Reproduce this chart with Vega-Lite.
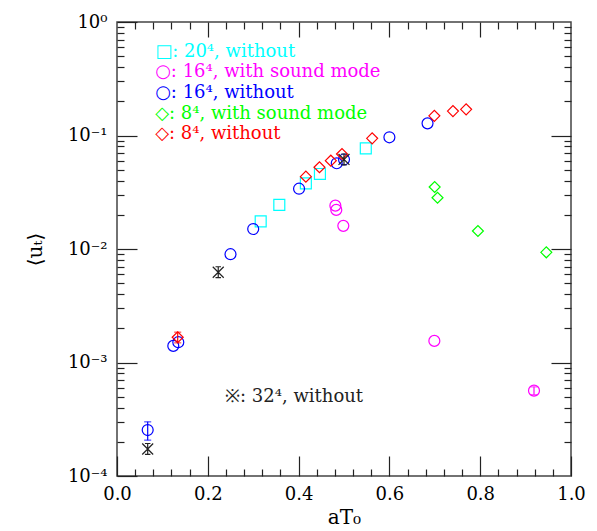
{
  "$schema": "https://vega.github.io/schema/vega-lite/v6.json",
  "width": 454,
  "height": 454,
  "autosize": {"type": "none"},
  "padding": {"left": 117, "top": 22, "right": 26, "bottom": 55},
  "background": "white",
  "config": {
    "view": {"stroke": "#444", "strokeWidth": 1.5},
    "font": "DejaVu Serif",
    "axis": {"domain": false, "grid": false, "labelFlush": false, "tickColor": "#222", "tickWidth": 1.2, "labelFont": "DejaVu Serif", "labelFontSize": 18, "labelColor": "black", "titleFont": "DejaVu Serif", "titleFontSize": 20, "titleFontWeight": "normal", "titleColor": "black"}
  },
  "datasets": {
    "pts": [
      {"s": "c20", "x": 0.3165, "y": 0.01754},
      {"s": "c20", "x": 0.3575, "y": 0.0245},
      {"s": "c20", "x": 0.416, "y": 0.0379},
      {"s": "c20", "x": 0.447, "y": 0.0458},
      {"s": "c20", "x": 0.548, "y": 0.0771},
      {"s": "m16", "x": 0.481, "y": 0.0241},
      {"s": "m16", "x": 0.483, "y": 0.0221},
      {"s": "m16", "x": 0.4985, "y": 0.016},
      {"s": "m16", "x": 0.699, "y": 0.00155},
      {"s": "m16", "x": 0.9185, "y": 0.000565},
      {"s": "b16", "x": 0.0676, "y": 0.000254},
      {"s": "b16", "x": 0.124, "y": 0.0014},
      {"s": "b16", "x": 0.135, "y": 0.00151},
      {"s": "b16", "x": 0.25, "y": 0.009},
      {"s": "b16", "x": 0.3, "y": 0.015},
      {"s": "b16", "x": 0.401, "y": 0.034},
      {"s": "b16", "x": 0.484, "y": 0.0569},
      {"s": "b16", "x": 0.5, "y": 0.0615},
      {"s": "b16", "x": 0.6, "y": 0.0964},
      {"s": "b16", "x": 0.684, "y": 0.128},
      {"s": "g8", "x": 0.6997, "y": 0.0352},
      {"s": "g8", "x": 0.706, "y": 0.0283},
      {"s": "g8", "x": 0.795, "y": 0.0144},
      {"s": "g8", "x": 0.9456, "y": 0.00935},
      {"s": "r8", "x": 0.1337, "y": 0.00167},
      {"s": "r8", "x": 0.416, "y": 0.0434},
      {"s": "r8", "x": 0.446, "y": 0.0525},
      {"s": "r8", "x": 0.471, "y": 0.06},
      {"s": "r8", "x": 0.4956, "y": 0.0687},
      {"s": "r8", "x": 0.562, "y": 0.0944},
      {"s": "r8", "x": 0.699, "y": 0.149},
      {"s": "r8", "x": 0.74, "y": 0.164},
      {"s": "r8", "x": 0.769, "y": 0.17},
      {"s": "k32", "x": 0.0676, "y": 0.000173},
      {"s": "k32", "x": 0.223, "y": 0.00624},
      {"s": "k32", "x": 0.5, "y": 0.0615}
    ],
    "err": [
      {"s": "b16", "x": 0.0676, "lo": 0.000207, "hi": 0.0003},
      {"s": "r8", "x": 0.1337, "lo": 0.00149, "hi": 0.00185},
      {"s": "m16", "x": 0.9185, "lo": 0.00052, "hi": 0.00061}
    ],
    "leg": [
      {"s": "c20", "x": 0.084, "y": 0.545, "t": "□: 20⁴, without"},
      {"s": "m16", "x": 0.084, "y": 0.359, "t": "○: 16⁴, with sound mode"},
      {"s": "b16", "x": 0.084, "y": 0.2365, "t": "○: 16⁴, without"},
      {"s": "g8", "x": 0.084, "y": 0.156, "t": "◇: 8⁴, with sound mode"},
      {"s": "r8", "x": 0.084, "y": 0.103, "t": "◇: 8⁴, without"},
      {"s": "k32", "x": 0.238, "y": 0.0005, "t": "※: 32⁴, without"}
    ]
  },
  "encoding": {
    "color": {"field": "s", "type": "nominal", "legend": null,
      "scale": {"domain": ["c20", "m16", "b16", "g8", "r8", "k32"], "range": ["#00ffff", "#ff00ff", "#0000ff", "#00ff00", "#ff0000", "#222222"]}}
  },
  "layer": [
    {
      "data": {"name": "pts"},
      "mark": {"type": "point", "filled": false, "strokeWidth": 1.2, "size": 120, "opacity": 1},
      "encoding": {
        "x": {"field": "x", "type": "quantitative", "scale": {"domain": [0, 1]},
          "axis": {"orient": "bottom", "values": [0, 0.2, 0.4, 0.6, 0.8, 1], "format": ".1f", "tickSize": -20, "labelPadding": 29, "title": "aT₀", "titlePadding": 4}},
        "y": {"field": "y", "type": "quantitative", "scale": {"type": "log", "domain": [0.0001, 1]},
          "axis": {"orient": "left", "values": [0.0001, 0.001, 0.01, 0.1, 1], "tickSize": -20, "labelPadding": 30,
            "labelExpr": "['10⁻⁴','10⁻³','10⁻²','10⁻¹','10⁰'][round(log(datum.value)/LN10)+4]", "title": "⟨uₜ⟩", "titlePadding": 22}},
        "shape": {"field": "s", "type": "nominal", "legend": null,
          "scale": {"domain": ["c20", "m16", "b16", "g8", "r8", "k32"], "range": ["square", "circle", "circle", "diamond", "diamond", "M-1,-1L1,1M-1,1L1,-1M0,-1L0,1M-0.5,-1L0.5,-1M-0.5,1L0.5,1"]}}
      }
    },
    {
      "data": {"name": "err"},
      "mark": {"type": "rule", "strokeWidth": 1.2},
      "encoding": {
        "x": {"field": "x", "type": "quantitative", "scale": {"domain": [0, 1]},
          "axis": {"orient": "bottom", "values": [0.04, 0.08, 0.12, 0.16, 0.24, 0.28, 0.32, 0.36, 0.44, 0.48, 0.52, 0.56, 0.64, 0.68, 0.72, 0.76, 0.84, 0.88, 0.92, 0.96], "tickSize": -7, "labels": false, "title": null}},
        "y": {"field": "lo", "type": "quantitative", "scale": {"type": "log", "domain": [0.0001, 1]},
          "axis": {"orient": "left", "values": [0.0002, 0.0003, 0.0004, 0.0005, 0.0006, 0.0007, 0.0008, 0.0009, 0.002, 0.003, 0.004, 0.005, 0.006, 0.007, 0.008, 0.009, 0.02, 0.03, 0.04, 0.05, 0.06, 0.07, 0.08, 0.09, 0.2, 0.3, 0.4, 0.5, 0.6, 0.7, 0.8, 0.9], "tickSize": -7, "labels": false, "title": null}},
        "y2": {"field": "hi"}
      }
    },
    {
      "data": {"name": "err"},
      "mark": {"type": "point", "filled": false, "strokeWidth": 1.2, "size": 50, "shape": "M-1,0L1,0"},
      "encoding": {
        "x": {"field": "x", "type": "quantitative", "scale": {"domain": [0, 1]},
          "axis": {"orient": "top", "values": [0.2, 0.4, 0.6, 0.8], "tickSize": -15, "labels": false, "title": null}},
        "y": {"field": "lo", "type": "quantitative", "scale": {"type": "log", "domain": [0.0001, 1]},
          "axis": {"orient": "right", "values": [0.001, 0.01, 0.1], "tickSize": -20, "labels": false, "title": null}}
      }
    },
    {
      "data": {"name": "err"},
      "mark": {"type": "point", "filled": false, "strokeWidth": 1.2, "size": 50, "shape": "M-1,0L1,0"},
      "encoding": {
        "x": {"field": "x", "type": "quantitative", "scale": {"domain": [0, 1]},
          "axis": {"orient": "top", "values": [0.04, 0.08, 0.12, 0.16, 0.24, 0.28, 0.32, 0.36, 0.44, 0.48, 0.52, 0.56, 0.64, 0.68, 0.72, 0.76, 0.84, 0.88, 0.92, 0.96], "tickSize": -7, "labels": false, "title": null}},
        "y": {"field": "hi", "type": "quantitative", "scale": {"type": "log", "domain": [0.0001, 1]},
          "axis": {"orient": "right", "values": [0.0002, 0.0003, 0.0004, 0.0005, 0.0006, 0.0007, 0.0008, 0.0009, 0.002, 0.003, 0.004, 0.005, 0.006, 0.007, 0.008, 0.009, 0.02, 0.03, 0.04, 0.05, 0.06, 0.07, 0.08, 0.09, 0.2, 0.3, 0.4, 0.5, 0.6, 0.7, 0.8, 0.9], "tickSize": -7, "labels": false, "title": null}}
      }
    },
    {
      "data": {"name": "leg"},
      "mark": {"type": "text", "align": "left", "baseline": "middle", "fontSize": 18, "font": "DejaVu Serif"},
      "encoding": {
        "x": {"field": "x", "type": "quantitative", "scale": {"domain": [0, 1]}, "axis": null},
        "y": {"field": "y", "type": "quantitative", "scale": {"type": "log", "domain": [0.0001, 1]}, "axis": null},
        "text": {"field": "t"}
      }
    }
  ],
  "resolve": {"axis": {"x": "independent", "y": "independent"}}
}
